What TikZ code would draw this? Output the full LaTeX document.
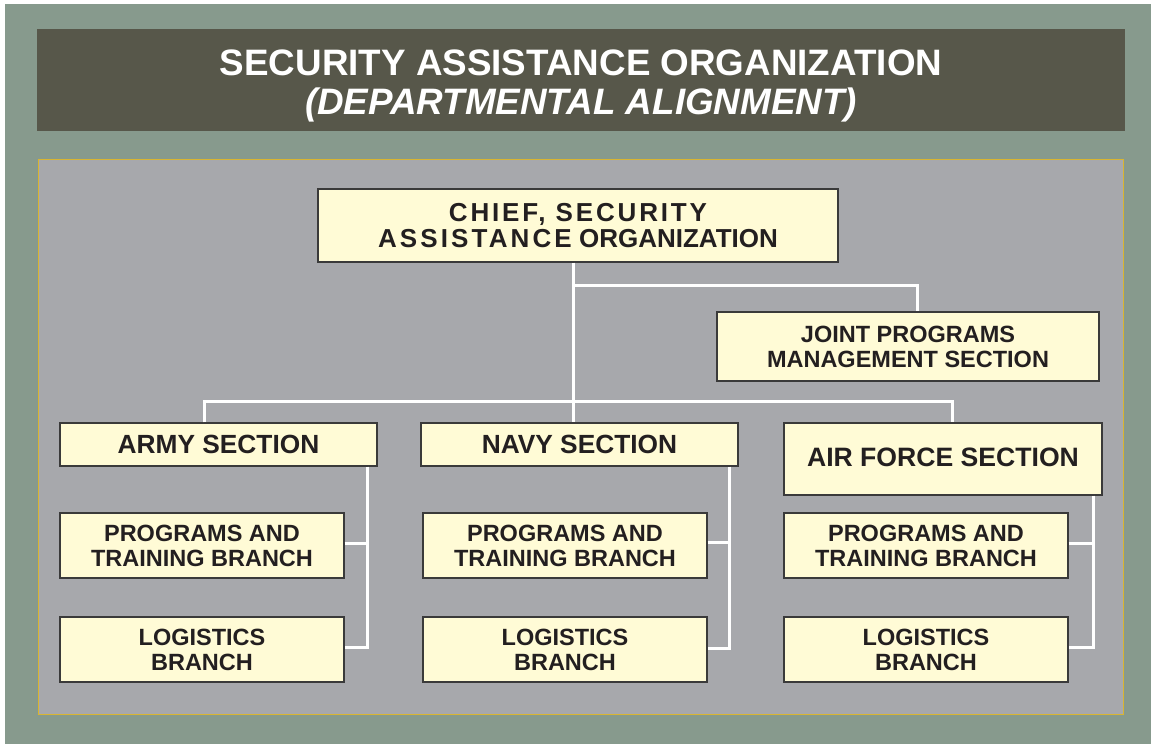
\documentclass[tikz,border=0pt]{standalone}
\usepackage{fontspec}
\setmainfont{Liberation Sans}
\definecolor{outergreen}{HTML}{879A8D}
\definecolor{bandgrey}{HTML}{57574A}
\definecolor{panelgrey}{HTML}{A7A8AC}
\definecolor{panelgold}{HTML}{D9B531}
\definecolor{boxfill}{HTML}{FFFBD6}
\definecolor{boxline}{HTML}{3A3A3A}
\definecolor{ink}{HTML}{231F20}
\tikzset{
  orgbox/.style={draw=boxline,line width=1.2pt,fill=boxfill,text=ink,inner sep=0pt,
    align=center,font=\bfseries\fontsize{23.5}{25}\selectfont},
  link/.style={draw=white,line width=3pt},
}
\begin{document}
\begin{tikzpicture}[x=1pt,y=-1pt]
\useasboundingbox (0,0) rectangle (1151,744);
\fill[outergreen] (5,4) rectangle (1151,744); % background
\fill[bandgrey] (37,29) rectangle (1125,131); % title band
\draw[panelgold,line width=1pt,fill=panelgrey] (38,159) rectangle (1123,714); % chart panel

\node[white,align=center,font=\bfseries\fontsize{36.8}{39}\selectfont] (title) at (581,86)
  {SECURITY ASSISTANCE ORGANIZATION\\ \itshape (DEPARTMENTAL ALIGNMENT)};

% top level
\node[orgbox,minimum width=520pt,minimum height=73pt,font=\bfseries\fontsize{26}{26.5}\selectfont] (chief) at (578,225.5)
  {{\addfontfeature{LetterSpace=11}CHIEF, SECURITY}\\{\addfontfeature{LetterSpace=12}ASSISTANCE} ORGANIZATION};
\node[orgbox,minimum width=382pt,minimum height=69pt] (joint) at (908,346.5)
  {JOINT PROGRAMS\\MANAGEMENT SECTION};

% sections
\node[orgbox,minimum width=317pt,minimum height=43pt,font=\bfseries\fontsize{26.3}{28}\selectfont] (army) at (218.5,444.5) {ARMY SECTION};
\node[orgbox,minimum width=317pt,minimum height=43pt,font=\bfseries\fontsize{26.3}{28}\selectfont] (navy) at (579.5,444.5) {NAVY SECTION};
\node[orgbox,minimum width=318pt,minimum height=72pt,font=\bfseries\fontsize{26.6}{28}\selectfont] (air) at (943,459) {\raisebox{3pt}{AIR FORCE SECTION}};

% branches
\node[orgbox,minimum width=284pt,minimum height=65pt] (armypt) at (202,545.5) {PROGRAMS AND\\TRAINING BRANCH};
\node[orgbox,minimum width=284pt,minimum height=65pt] (armylog) at (202,649.5) {LOGISTICS\\BRANCH};
\node[orgbox,minimum width=284pt,minimum height=65pt] (navypt) at (565,545.5) {PROGRAMS AND\\TRAINING BRANCH};
\node[orgbox,minimum width=284pt,minimum height=65pt] (navylog) at (565,649.5) {LOGISTICS\\BRANCH};
\node[orgbox,minimum width=284pt,minimum height=65pt] (airpt) at (926,545.5) {PROGRAMS AND\\TRAINING BRANCH};
\node[orgbox,minimum width=284pt,minimum height=65pt] (airlog) at (926,649.5) {LOGISTICS\\BRANCH};

% connectors
\coordinate (jointbus) at (573,285);
\coordinate (sectbus) at (573,401);
\draw[link] (jointbus |- chief.south) -- (jointbus |- navy.north);
\draw[link] (jointbus) -| ([xshift=9pt]joint.north);
\draw[link] ([xshift=-14.5pt]army.north) |- (sectbus) -| ([xshift=9pt]air.north);

\draw[link] ([xshift=-10pt]army.south east) coordinate (armybus) |- ([yshift=2.5pt]armylog.east);
\draw[link] ([yshift=2.5pt]armypt.east) coordinate (armyptend) -- (armyptend -| armybus);
\draw[link] ([xshift=-9pt]navy.south east) coordinate (navybus) |- ([yshift=1.5pt]navylog.east);
\draw[link] ([yshift=3pt]navypt.east) coordinate (navyptend) -- (navyptend -| navybus);
\draw[link] ([xshift=-9pt]air.south east) coordinate (airbus) |- ([yshift=2.5pt]airlog.east);
\draw[link] ([yshift=2.5pt]airpt.east) coordinate (airptend) -- (airptend -| airbus);
\end{tikzpicture}
\end{document}
